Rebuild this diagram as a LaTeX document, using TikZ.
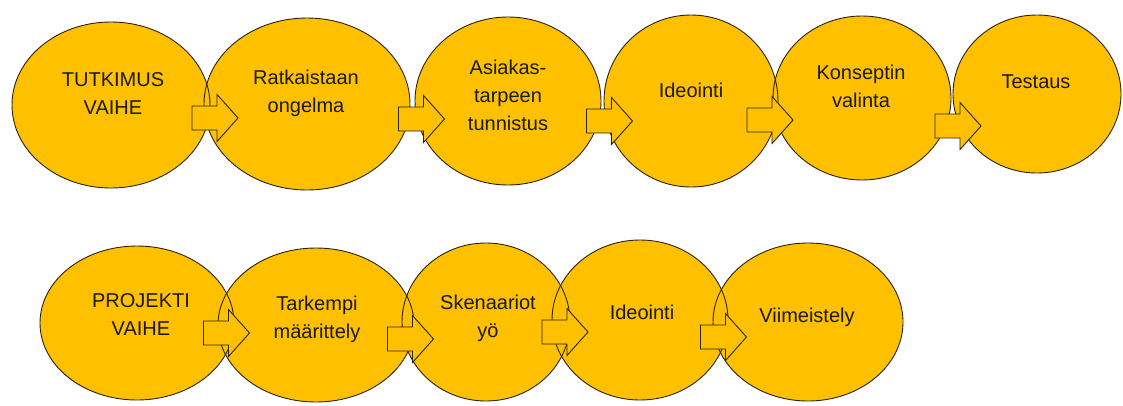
\documentclass[tikz,border=0pt]{standalone}
\usepackage{fontspec}
\setmainfont{Liberation Sans}
\usetikzlibrary{shapes.geometric}
\definecolor{gold}{RGB}{255,192,0}
\definecolor{edge}{RGB}{40,36,20}
\definecolor{txt}{RGB}{25,25,25}
\tikzset{
  ellfill/.style={ellipse, fill=gold, inner sep=0pt},
  ellline/.style={ellipse, draw=edge, line width=0.9pt, inner sep=0pt},
  lbl/.style={align=center, text=txt, inner sep=0pt, font=\fontsize{20}{28}\selectfont},
  barrow/.pic={\draw[fill=gold, draw=edge, line width=0.9pt, line join=miter]
     (-23,-12) -- (2,-12) -- (2,-23.5) -- (23,0) -- (2,23.5) -- (2,12) -- (-23,12) -- cycle;}
}
\begin{document}
\begin{tikzpicture}[x=1pt,y=-1pt]
\useasboundingbox (0,0) rectangle (1123,405);
\fill[white] (0,0) rectangle (1123,405);
% fills
\foreach \cx/\cy/\rx/\ry in {111/105/99/83, 307/104/103/86, 508/101/93/84, 691/101/87/86, 862/98/89/82, 1037/94/84/79,
  137/323/97/77, 316/325/98/77, 486/322/84/79, 640/320/88/80, 808/322/95/79}
  \node[ellfill, minimum width=2*\rx, minimum height=2*\ry] at (\cx,\cy) {};
% borders (named)
\node[ellline, minimum width=198, minimum height=166] (t1) at (111,105) {};
\node[ellline, minimum width=206, minimum height=172] (t2) at (307,104) {};
\node[ellline, minimum width=186, minimum height=168] (t3) at (508,101) {};
\node[ellline, minimum width=174, minimum height=172] (t4) at (691,101) {};
\node[ellline, minimum width=178, minimum height=164] (t5) at (862,98) {};
\node[ellline, minimum width=168, minimum height=158] (t6) at (1037,94) {};
\node[ellline, minimum width=194, minimum height=154] (b1) at (137,323) {};
\node[ellline, minimum width=196, minimum height=154] (b2) at (316,325) {};
\node[ellline, minimum width=168, minimum height=158] (b3) at (486,322) {};
\node[ellline, minimum width=176, minimum height=160] (b4) at (640,320) {};
\node[ellline, minimum width=190, minimum height=158] (b5) at (808,322) {};
% labels
\node[lbl] (l1) at (113,94) {TUTKIMUS\\VAIHE};
\node[lbl] (l2) at (306,93) {Ratkaistaan\\ongelma};
\node[lbl] (l3) at (508,95) {Asiakas-\\tarpeen\\tunnistus};
\node[lbl] (l4) at (691,90) {Ideointi};
\node[lbl] (l5) at (861,86) {Konseptin\\valinta};
\node[lbl] (l6) at (1036,82) {Testaus};
\node[lbl] (m1) at (141,315) {PROJEKTI\\VAIHE};
\node[lbl] (m2) at (317,319) {Tarkempi\\määrittely};
\node[lbl] (m3) at (488,318) {Skenaariot\\yö};
\node[lbl] (m4) at (642,312) {Ideointi};
\node[lbl] (m5) at (807,317) {Viimeistely};
% block arrows
\pic at (215,118) {barrow};
\pic at (421.5,119) {barrow};
\pic at (609.5,121) {barrow};
\pic at (770,120) {barrow};
\pic at (958,126) {barrow};
\pic at (226.5,333) {barrow};
\pic at (410.5,339) {barrow};
\pic at (565,332) {barrow};
\pic at (723.5,337) {barrow};
\end{tikzpicture}
\end{document}
